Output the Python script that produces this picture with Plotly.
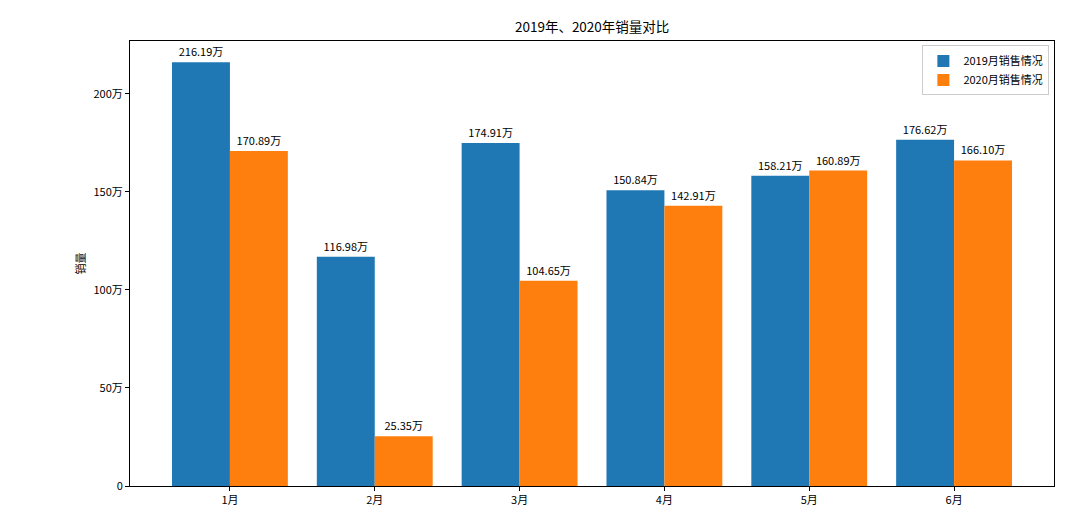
import plotly.graph_objects as go

months = ["1月", "2月", "3月", "4月", "5月", "6月"]
positions = [1, 2, 3, 4, 5, 6]
sales_2019 = [216.19, 116.98, 174.91, 150.84, 158.21, 176.62]
sales_2020 = [170.89, 25.35, 104.65, 142.91, 160.89, 166.10]
ytick_vals = [0, 50, 100, 150, 200]
ytick_text = ["0", "50万", "100万", "150万", "200万"]

FONT = "Noto Sans CJK SC, DejaVu Sans, sans-serif"

fig = go.Figure()
fig.add_trace(go.Bar(
    x=positions, y=sales_2019, name="2019月销售情况",
    width=0.4, offset=-0.4, marker=dict(color="#1f77b4", line=dict(width=0)),
    text=[f"{v:.2f}万" for v in sales_2019], textposition="outside",
    textfont=dict(size=11, color="black", family=FONT), cliponaxis=False,
))
fig.add_trace(go.Bar(
    x=positions, y=sales_2020, name="2020月销售情况",
    width=0.4, offset=0, marker=dict(color="#ff7f0e", line=dict(width=0)),
    text=[f"{v:.2f}万" for v in sales_2020], textposition="outside",
    textfont=dict(size=11, color="black", family=FONT), cliponaxis=False,
))

fig.update_layout(
    width=1064, height=510,
    margin=dict(l=122, r=18, t=33, b=32),
    paper_bgcolor="white", plot_bgcolor="white",
    font=dict(family=FONT, size=11, color="black"),
    barmode="overlay",
    title=dict(text="2019年、2020年销量对比", x=0.549, xanchor="center",
               y=0.963, yanchor="middle", font=dict(size=13.5, family=FONT)),
    legend=dict(x=0.995, xanchor="right", y=0.99, yanchor="top",
                bordercolor="#cccccc", borderwidth=1, bgcolor="white",
                font=dict(size=11, family=FONT)),
    showlegend=True,
)
fig.update_xaxes(
    range=[0.31, 6.69], tickvals=positions, ticktext=months,
    showline=True, linecolor="black", linewidth=1, mirror=True,
    ticks="outside", ticklen=4, tickcolor="black", showgrid=False, zeroline=False,
)
fig.update_yaxes(
    range=[0, 227.0], tickvals=ytick_vals, ticktext=ytick_text,
    showline=True, linecolor="black", linewidth=1, mirror=True,
    ticks="outside", ticklen=4, tickcolor="black", showgrid=False, zeroline=False,
    title=dict(text="销量", font=dict(size=11, family=FONT), standoff=5),
)

fig.write_html("out.html")
